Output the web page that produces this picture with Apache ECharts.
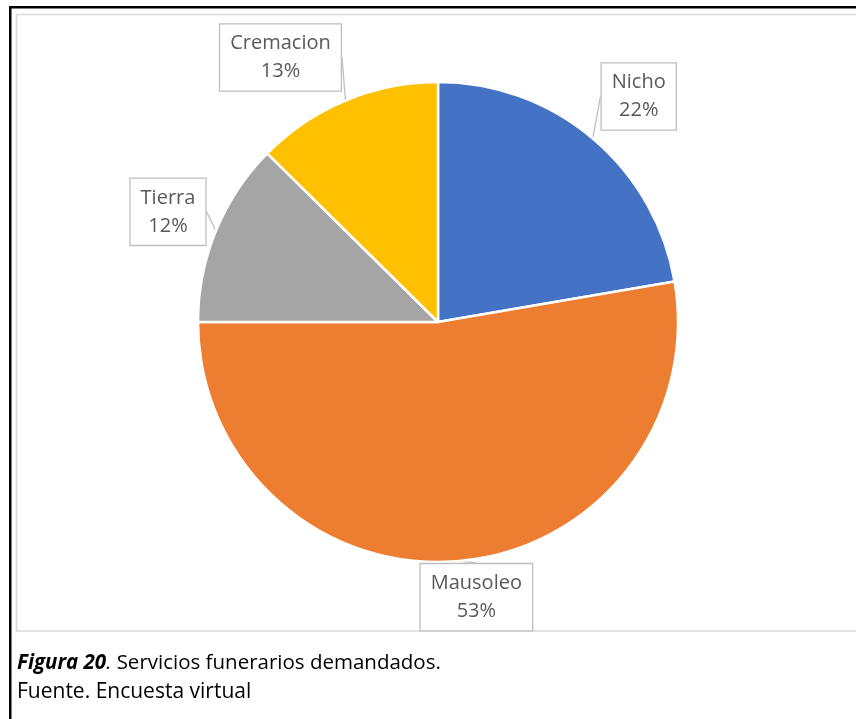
<!DOCTYPE html>
<html>
<head>
<meta charset="utf-8">
<script src="https://cdn.jsdelivr.net/npm/echarts@6/dist/echarts.min.js"></script>
<style>
  html, body { margin: 0; padding: 0; background: #ffffff; }
  #chart { width: 856px; height: 719px; }
</style>
</head>
<body>
<div id="chart"></div>
<script>
// ---- data ----
const categories = ['Nicho', 'Mausoleo', 'Tierra', 'Cremacion'];
const values = [22.3, 52.7, 12.4, 12.6];
const sliceColors = ['#4472C4', '#ED7D31', '#A5A5A5', '#FFC000'];
const captionLabel = 'Figura 20';
const captionText = ' Servicios funerarios demandados.';
const sourceText = 'Fuente. Encuesta virtual';

// ---- layout ----
const CX = 438, CY = 322, R = 240;
// label box offsets from the slice's mid-angle edge point (layout only)
const labelNudge = [[46, -42], [18, 36], [-48, -19], [-65, -43]];

const chart = echarts.init(document.getElementById('chart'), null, { renderer: 'canvas' });

const pieData = categories.map((c, i) => ({
  name: c,
  value: values[i],
  itemStyle: { color: sliceColors[i] }
}));

const option = {
  animation: false,
  backgroundColor: '#ffffff',
  graphic: [
    { type: 'rect', silent: true, z: 0,
      shape: { x: 10.25, y: 7.25, width: 900, height: 740 },
      style: { fill: 'none', stroke: '#000000', lineWidth: 2.5 } },
    { type: 'rect', silent: true, z: 0,
      shape: { x: 16.5, y: 14.5, width: 900, height: 616.5 },
      style: { fill: '#ffffff', stroke: '#D9D9D9', lineWidth: 1.6 } },
    { type: 'text', silent: true, z: 10, left: 17, top: 653,
      style: {
        text: '{b|' + captionLabel + '}{i|.}' + captionText,
        fontFamily: 'Open Sans', fontSize: 20.5, fill: '#000000',
        rich: {
          b: { fontFamily: 'Open Sans', fontSize: 20.5, fontWeight: 'bold', fontStyle: 'italic', fill: '#000000' },
          i: { fontFamily: 'Open Sans', fontSize: 20.5, fontStyle: 'italic', fill: '#000000' }
        }
      } },
    { type: 'text', silent: true, z: 10, left: 17, top: 682,
      style: { text: sourceText, fontFamily: 'Open Sans', fontSize: 21, fill: '#000000' } }
  ],
  series: [{
    type: 'pie',
    z: 5,
    center: [CX, CY],
    radius: R,
    startAngle: 90,
    clockwise: true,
    avoidLabelOverlap: false,
    emphasis: { disabled: true },
    itemStyle: { borderColor: '#ffffff', borderWidth: 2.5 },
    label: {
      show: true,
      position: 'outside',
      formatter: p => p.name + '\n' + Math.round(p.percent) + '%',
      fontFamily: 'Open Sans',
      fontSize: 20,
      lineHeight: 28,
      color: '#595959',
      align: 'center',
      backgroundColor: '#ffffff',
      borderColor: '#BFBFBF',
      borderWidth: 1.3,
      padding: [5, 10]
    },
    labelLine: {
      show: true,
      length: 10,
      length2: 0,
      smooth: false,
      lineStyle: { color: '#BFBFBF', width: 1.3 }
    },
    labelLayout: function (params) {
      const i = params.dataIndex;
      const pts = params.labelLinePoints;
      let ex, ey;
      if (pts && pts.length) {
        ex = pts[0][0]; ey = pts[0][1];
      } else {
        ex = params.rect.x + params.rect.width / 2;
        ey = params.rect.y + params.rect.height / 2;
      }
      return {
        x: ex + labelNudge[i][0],
        y: ey + labelNudge[i][1],
        align: 'center',
        verticalAlign: 'middle'
      };
    },
    data: pieData
  }]
};

chart.setOption(option);
</script>
</body>
</html>
